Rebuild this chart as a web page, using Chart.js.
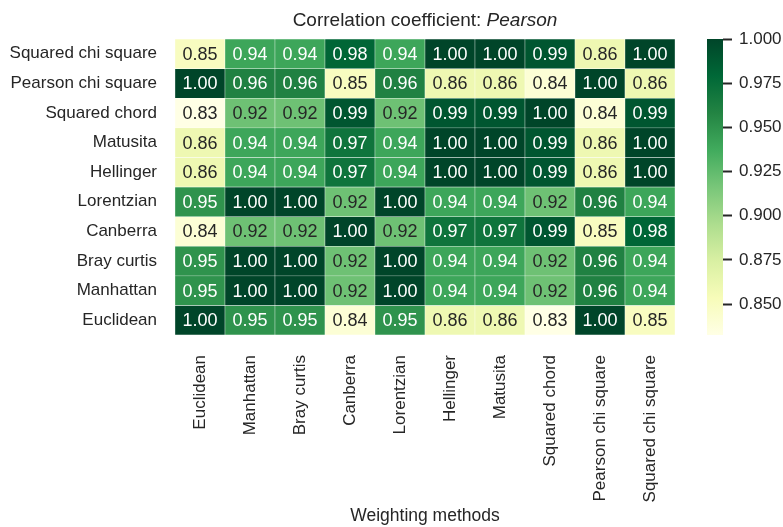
<!DOCTYPE html>
<html>
<head>
<meta charset="utf-8">
<script src="https://cdn.jsdelivr.net/npm/chart.js@4.4.1/dist/chart.umd.min.js"></script>
<style>
  html, body { margin: 0; padding: 0; background: #ffffff; }
  #wrap { position: relative; width: 783px; height: 527px; }
  #heat { position: absolute; left: 0; top: 0; }
  #bar { position: absolute; left: 690px; top: 0; }
</style>
</head>
<body>
<div id="wrap">
  <canvas id="heat" width="783" height="527"></canvas>
  <canvas id="bar" width="93" height="527"></canvas>
</div>
<script>
// Weighting methods along the x axis (left to right)
const colLabels = ["Euclidean", "Manhattan", "Bray curtis", "Canberra", "Lorentzian",
  "Hellinger", "Matusita", "Squared chord", "Pearson chi square", "Squared chi square"];

// Weighting methods along the y axis (top to bottom)
const rowLabels = ["Squared chi square", "Pearson chi square", "Squared chord", "Matusita",
  "Hellinger", "Lorentzian", "Canberra", "Bray curtis", "Manhattan", "Euclidean"];

// Pearson correlation coefficients, one array per row (same order as rowLabels)
const rowSquaredChiSquare = [0.85, 0.94, 0.94, 0.98, 0.94, 1.00, 1.00, 0.99, 0.86, 1.00];
const rowPearsonChiSquare = [1.00, 0.96, 0.96, 0.85, 0.96, 0.86, 0.86, 0.84, 1.00, 0.86];
const rowSquaredChord     = [0.83, 0.92, 0.92, 0.99, 0.92, 0.99, 0.99, 1.00, 0.84, 0.99];
const rowMatusita         = [0.86, 0.94, 0.94, 0.97, 0.94, 1.00, 1.00, 0.99, 0.86, 1.00];
const rowHellinger        = [0.86, 0.94, 0.94, 0.97, 0.94, 1.00, 1.00, 0.99, 0.86, 1.00];
const rowLorentzian       = [0.95, 1.00, 1.00, 0.92, 1.00, 0.94, 0.94, 0.92, 0.96, 0.94];
const rowCanberra         = [0.84, 0.92, 0.92, 1.00, 0.92, 0.97, 0.97, 0.99, 0.85, 0.98];
const rowBrayCurtis       = [0.95, 1.00, 1.00, 0.92, 1.00, 0.94, 0.94, 0.92, 0.96, 0.94];
const rowManhattan        = [0.95, 1.00, 1.00, 0.92, 1.00, 0.94, 0.94, 0.92, 0.96, 0.94];
const rowEuclidean        = [1.00, 0.95, 0.95, 0.84, 0.95, 0.86, 0.86, 0.83, 1.00, 0.85];

const rowValues = [rowSquaredChiSquare, rowPearsonChiSquare, rowSquaredChord, rowMatusita,
  rowHellinger, rowLorentzian, rowCanberra, rowBrayCurtis, rowManhattan, rowEuclidean];

// Colour scale limits and colour bar ticks
const colorMin = 0.8325;
const colorMax = 1.0;
const colorbarTicks = [0.850, 0.875, 0.900, 0.925, 0.950, 0.975, 1.000];

// YlGn colour map stops
const ylgn = ["#ffffe5", "#f7fcb9", "#d9f0a3", "#addd8e", "#78c679",
  "#41ab5d", "#238443", "#006837", "#004529"];

const TEXT = "#262626";
const FONT = "'Liberation Sans', Arial, sans-serif";

function hexToRgb(h) {
  return [parseInt(h.slice(1, 3), 16), parseInt(h.slice(3, 5), 16), parseInt(h.slice(5, 7), 16)];
}
const ylgnRgb = ylgn.map(hexToRgb);

function colorAt(t) {
  t = Math.max(0, Math.min(1, t));
  const pos = t * (ylgnRgb.length - 1);
  const i = Math.min(Math.floor(pos), ylgnRgb.length - 2);
  const f = pos - i;
  const a = ylgnRgb[i], b = ylgnRgb[i + 1];
  return [0, 1, 2].map(k => Math.round(a[k] + (b[k] - a[k]) * f));
}
function colorFor(v) {
  const c = colorAt((v - colorMin) / (colorMax - colorMin));
  return `rgb(${c[0]},${c[1]},${c[2]})`;
}
function luminance(v) {
  const c = colorAt((v - colorMin) / (colorMax - colorMin)).map(x => {
    x /= 255;
    return x <= 0.03928 ? x / 12.92 : Math.pow((x + 0.055) / 1.055, 2.4);
  });
  return 0.2126 * c[0] + 0.7152 * c[1] + 0.0722 * c[2];
}

const nRows = rowLabels.length;

// One floating-bar dataset per row; each bar spans one unit on the y scale
const datasets = rowValues.map((vals, r) => {
  const lo = nRows - 1 - r;
  return {
    label: rowLabels[r],
    data: colLabels.map((c, j) => ({ x: c, y: [lo, lo + 1], v: vals[j] })),
    backgroundColor: vals.map(colorFor),
    borderColor: "#ffffff",
    borderWidth: 0.5,
    borderSkipped: false,
    barPercentage: 1,
    categoryPercentage: 1,
    grouped: false
  };
});

// Writes each cell's value on top of it and the title above the grid
const annotate = {
  id: "annotate",
  afterDatasetsDraw(chart) {
    const ctx = chart.ctx;
    ctx.save();
    ctx.font = `18px ${FONT}`;
    ctx.textAlign = "center";
    ctx.textBaseline = "middle";
    chart.data.datasets.forEach((ds, di) => {
      const meta = chart.getDatasetMeta(di);
      meta.data.forEach((el, i) => {
        const v = ds.data[i].v;
        ctx.fillStyle = luminance(v) > 0.408 ? TEXT : "#ffffff";
        ctx.fillText(v.toFixed(2), el.x, (el.y + el.base) / 2 + 1);
      });
    });
    ctx.restore();
  },
  afterDraw(chart) {
    const ctx = chart.ctx;
    const area = chart.chartArea;
    const cx = (area.left + area.right) / 2;
    const partA = "Correlation coefficient: ";
    const partB = "Pearson";
    ctx.save();
    ctx.fillStyle = TEXT;
    ctx.textBaseline = "alphabetic";
    ctx.font = `19px ${FONT}`;
    const wA = ctx.measureText(partA).width;
    ctx.font = `italic 19px ${FONT}`;
    const wB = ctx.measureText(partB).width;
    const x0 = cx - (wA + wB) / 2;
    ctx.textAlign = "left";
    ctx.font = `19px ${FONT}`;
    ctx.fillText(partA, x0, 26);
    ctx.font = `italic 19px ${FONT}`;
    ctx.fillText(partB, x0 + wA, 26);
    ctx.restore();
  }
};

new Chart(document.getElementById("heat"), {
  type: "bar",
  data: { labels: colLabels, datasets },
  options: {
    responsive: false,
    animation: false,
    layout: { padding: { left: 0, top: 39, right: 108, bottom: 0 } },
    plugins: { legend: { display: false }, tooltip: { enabled: false } },
    scales: {
      x: {
        type: "category",
        offset: true,
        grid: { display: false, drawTicks: false },
        border: { display: false },
        ticks: {
          color: TEXT, font: { family: FONT, size: 17 },
          minRotation: 90, maxRotation: 90, padding: 20, autoSkip: false
        },
        title: {
          display: true, text: "Weighting methods", color: TEXT,
          font: { family: FONT, size: 17.5 }, padding: { top: 4, bottom: 0 }
        },
        afterFit(scale) { scale.height = 192; }
      },
      y: {
        type: "linear",
        min: 0, max: nRows,
        grid: { display: false, drawTicks: false },
        border: { display: false },
        afterBuildTicks(scale) {
          scale.ticks = rowLabels.map((_, r) => ({ value: nRows - 1 - r + 0.5 }));
        },
        ticks: {
          color: TEXT, font: { family: FONT, size: 17 }, padding: 18,
          callback(value) { return rowLabels[nRows - 1 - Math.floor(value)]; }
        },
        afterFit(scale) { scale.width = 175; }
      }
    }
  },
  plugins: [annotate]
});

// Colour bar: a single floating bar filled with the colour map gradient
new Chart(document.getElementById("bar"), {
  type: "bar",
  data: {
    labels: [""],
    datasets: [{
      data: [[colorMin, colorMax]],
      backgroundColor(context) {
        const chart = context.chart;
        const ys = chart.scales.y;
        if (!ys || !chart.chartArea) return ylgn[4];
        const g = chart.ctx.createLinearGradient(0, ys.getPixelForValue(colorMin), 0, ys.getPixelForValue(colorMax));
        ylgn.forEach((c, i) => g.addColorStop(i / (ylgn.length - 1), c));
        return g;
      },
      borderWidth: 0,
      barPercentage: 1,
      categoryPercentage: 1
    }]
  },
  options: {
    responsive: false,
    animation: false,
    layout: { padding: { left: 17, top: 39, right: 0, bottom: 192 } },
    plugins: { legend: { display: false }, tooltip: { enabled: false } },
    scales: {
      x: { display: false },
      y: {
        position: "right",
        min: colorMin, max: colorMax,
        afterBuildTicks(scale) {
          scale.ticks = colorbarTicks.map(v => ({ value: v }));
        },
        grid: { drawOnChartArea: false, drawTicks: true, tickLength: 9, tickWidth: 2, color: TEXT },
        border: { display: false },
        ticks: {
          color: TEXT, font: { family: FONT, size: 17 }, padding: 7,
          callback(value) { return value.toFixed(3); }
        },
        afterFit(scale) { scale.width = 60; }
      }
    }
  }
});
</script>
</body>
</html>
